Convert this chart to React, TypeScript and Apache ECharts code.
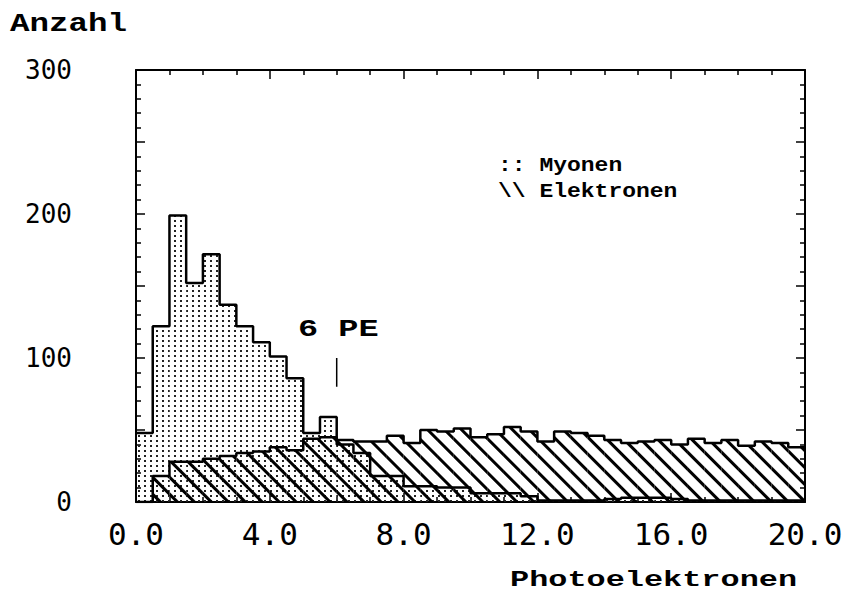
import React, { useEffect, useRef } from "react";
import * as echarts from "echarts";

const binStarts = [
  0, 0.5, 1, 1.5, 2, 2.5, 3, 3.5, 4, 4.5,
  5, 5.5, 6, 6.5, 7, 7.5, 8, 8.5, 9, 9.5,
  10, 10.5, 11, 11.5, 12, 12.5, 13, 13.5, 14, 14.5,
  15, 15.5, 16, 16.5, 17, 17.5, 18, 18.5, 19, 19.5,
];
const binEnd = 20;

const myonen = [
  48, 122, 199, 152, 172, 137, 122, 111, 101, 86,
  48, 59, 40, 34, 18, 18, 11, 11, 10, 10,
  6, 6, 6, 4, 1, 1, 1, 1, 2, 3,
  3, 3, 2, 1, 1, 1, 1, 1, 1, 1,
];

const elektronen = [
  0, 18, 28, 28, 30, 32, 34, 35, 38, 36,
  44, 45, 43, 42, 42, 46, 41, 50, 49, 51,
  45, 47, 52, 49, 42, 49, 48, 46, 43, 41,
  42, 43, 40, 44, 41, 43, 39, 42, 41, 38,
];

const xTicks = [0, 4, 8, 12, 16, 20];
const yTicks = [0, 100, 200, 300];
const peMarker = [[6, 80], [6, 100]];

const yTitle = "Anzahl";
const xTitle = "Photoelektronen";
const legendMyonen = ":: Myonen";
const legendElektronen = "\\\\ Elektronen";
const peLabel = "6 PE";

function stepData(values: number[]) {
  const pts: number[][] = binStarts.map((x, i) => [x, values[i]]);
  pts.push([binEnd, values[values.length - 1]]);
  return pts;
}

export default function App() {
  const ref = useRef<HTMLDivElement>(null);
  useEffect(() => {
    if (!ref.current) return;
    const chart = echarts.init(ref.current, null, { renderer: "svg" });
    const tickCommon = {
      axisLine: { show: true, onZero: false, lineStyle: { color: "#000", width: 2 } },
      axisTick: { show: true, inside: true, length: 9, lineStyle: { color: "#000", width: 1.5 } },
      splitLine: { show: false },
    };
    const xMinor = { show: true, splitNumber: 4, length: 5, lineStyle: { color: "#000", width: 1.5 } };
    const yMinor = { show: true, splitNumber: 5, length: 5, lineStyle: { color: "#000", width: 1.5 } };
    const option: any = {
      animation: false,
      backgroundColor: "#fff",
      grid: { left: 136, right: 47, top: 70, bottom: 93, containLabel: false },
      xAxis: [
        {
          type: "category",
          data: binStarts.map((b) => String(b)),
          show: false,
          boundaryGap: true,
          axisLine: { onZero: false },
        },
        {
          type: "value",
          position: "bottom",
          min: 0,
          max: 20,
          interval: 4,
          ...tickCommon,
          minorTick: xMinor,
          axisLabel: {
            color: "#000",
            fontSize: 31,
            fontFamily: "'DejaVu Sans Mono', monospace",
            margin: 16,
            formatter: (v: number) => (xTicks.includes(v) ? v.toFixed(1) : ""),
          },
        },
        {
          type: "value",
          position: "top",
          min: 0,
          max: 20,
          interval: 4,
          ...tickCommon,
          minorTick: xMinor,
          axisLabel: { show: false },
        },
      ],
      yAxis: [
        {
          type: "value",
          position: "left",
          min: 0,
          max: 300,
          interval: 50,
          ...tickCommon,
          minorTick: yMinor,
          axisLabel: {
            color: "#000",
            fontSize: 26,
            fontFamily: "'DejaVu Sans Mono', monospace",
            margin: 64,
            formatter: (v: number) => (yTicks.includes(v) ? String(v) : ""),
          },
        },
        {
          type: "value",
          position: "right",
          min: 0,
          max: 300,
          interval: 50,
          ...tickCommon,
          minorTick: yMinor,
          axisLabel: { show: false },
        },
      ],
      series: [
        {
          name: "Myonen",
          type: "bar",
          xAxisIndex: 0,
          yAxisIndex: 0,
          data: myonen,
          barCategoryGap: "0%",
          barGap: "-100%",
          itemStyle: {
            color: "rgba(0,0,0,0)",
            decal: {
              symbol: "rect",
              symbolSize: 1,
              color: "#222",
              backgroundColor: "rgba(0,0,0,0)",
              dashArrayX: [2, 4],
              dashArrayY: [2, 3],
            },
          },
          z: 1,
        },
        {
          name: "Elektronen",
          type: "bar",
          xAxisIndex: 0,
          yAxisIndex: 0,
          data: elektronen,
          barCategoryGap: "0%",
          barGap: "-100%",
          itemStyle: {
            color: "rgba(0,0,0,0)",
            decal: {
              symbol: "rect",
              symbolSize: 1,
              color: "#000",
              backgroundColor: "rgba(0,0,0,0)",
              dashArrayX: [1, 0],
              dashArrayY: [2.5, 9],
              rotation: Math.PI / 4,
            },
          },
          z: 2,
        },
        {
          name: "Myonen outline",
          type: "line",
          xAxisIndex: 1,
          yAxisIndex: 0,
          step: "end",
          symbol: "none",
          data: stepData(myonen),
          lineStyle: { color: "#000", width: 2.5 },
          z: 3,
        },
        {
          name: "Elektronen outline",
          type: "line",
          xAxisIndex: 1,
          yAxisIndex: 0,
          step: "end",
          symbol: "none",
          data: stepData(elektronen),
          lineStyle: { color: "#000", width: 2.5 },
          z: 3,
        },
        {
          name: "6 PE",
          type: "line",
          xAxisIndex: 1,
          yAxisIndex: 0,
          symbol: "none",
          data: peMarker,
          lineStyle: { color: "#000", width: 1.5 },
          z: 3,
        },
      ],
      graphic: [
        {
          type: "text",
          x: 10,
          y: 25,
          scaleX: 1.3,
          style: { text: yTitle, font: "bold 25px 'Liberation Mono', monospace", fill: "#000", textAlign: "left", textVerticalAlign: "middle" },
        },
        {
          type: "text",
          x: 498,
          y: 165,
          scaleX: 1.15,
          style: { text: legendMyonen, font: "bold 20px 'Liberation Mono', monospace", fill: "#000", textAlign: "left", textVerticalAlign: "middle" },
        },
        {
          type: "text",
          x: 498,
          y: 191,
          scaleX: 1.15,
          style: { text: legendElektronen, font: "bold 20px 'Liberation Mono', monospace", fill: "#000", textAlign: "left", textVerticalAlign: "middle" },
        },
        {
          type: "text",
          x: 298,
          y: 330,
          scaleX: 1.4,
          style: { text: peLabel, font: "bold 24px 'Liberation Mono', monospace", fill: "#000", textAlign: "left", textVerticalAlign: "middle" },
        },
        {
          type: "text",
          x: 510,
          y: 580,
          scaleX: 1.45,
          style: { text: xTitle, font: "bold 22px 'Liberation Mono', monospace", fill: "#000", textAlign: "left", textVerticalAlign: "middle" },
        },
      ],
    };
    chart.setOption(option);
    return () => chart.dispose();
  }, []);
  return (
    <div
      ref={ref}
      style={{ position: "absolute", left: 0, top: 0, width: 852, height: 595, background: "#fff" }}
    />
  );
}
